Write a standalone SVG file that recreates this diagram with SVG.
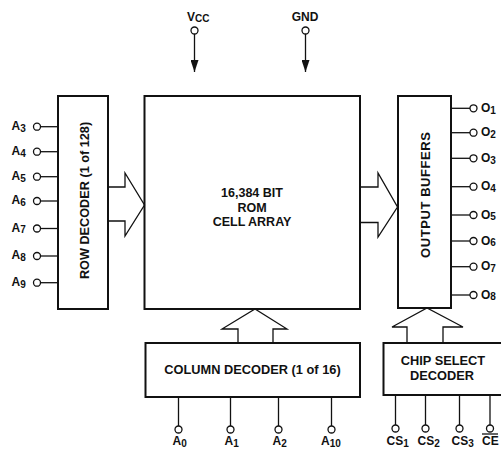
<svg xmlns="http://www.w3.org/2000/svg" width="501" height="449" viewBox="0 0 501 449">
<style>
.box{fill:#fff;stroke:#111;stroke-width:2}
.ln{fill:none;stroke:#111;stroke-width:1.3}
.pin{fill:#fff;stroke:#111;stroke-width:1.3}
.arr{fill:none;stroke:#111;stroke-width:1.3;stroke-linejoin:miter}
text{font-family:"Liberation Sans",Arial,sans-serif;font-weight:bold;fill:#111}
.lbl{font-size:12px}
.sub{font-size:10px}
.big{font-size:12.5px}
</style>
<defs>
<marker id="ah" viewBox="0 0 12 8" refX="12" refY="4" markerWidth="12" markerHeight="8" markerUnits="userSpaceOnUse" orient="auto">
<path d="M0,0 L12,4 L0,8 Z" fill="#111"/>
</marker>
</defs>
<rect width="501" height="449" fill="#fff"/>

<g id="row-decoder">
<rect class="box" x="58" y="96" width="50" height="213"/>
<text transform="translate(88.5,200.5) rotate(-90)" text-anchor="middle" font-size="12.7">ROW DECODER (1 of 128)</text>
</g>

<g id="rom-array">
<rect class="box" x="144.5" y="96" width="215.5" height="213"/>
<text class="big" x="252" y="196.5" text-anchor="middle">16,384 BIT</text>
<text class="big" x="252" y="211.5" text-anchor="middle">ROM</text>
<text class="big" x="252" y="226" text-anchor="middle">CELL ARRAY</text>
</g>

<g id="output-buffers">
<rect class="box" x="398" y="96" width="53" height="212"/>
<text transform="translate(430,195) rotate(-90)" text-anchor="middle" font-size="13" textLength="126" lengthAdjust="spacing">OUTPUT BUFFERS</text>
</g>

<g id="column-decoder">
<rect class="box" x="145.5" y="343" width="214.5" height="54"/>
<text x="252.5" y="374" text-anchor="middle" font-size="12.8">COLUMN DECODER (1 of 16)</text>
</g>

<g id="chip-select-decoder">
<rect class="box" x="383.5" y="343" width="130" height="52"/>
<text x="443" y="365" text-anchor="middle" font-size="12.8">CHIP SELECT</text>
<text x="442" y="379.5" text-anchor="middle" font-size="12.8">DECODER</text>
</g>

<g id="connectors">
<line class="ln" x1="194.5" y1="34" x2="194.5" y2="72" marker-end="url(#ah)"/>
<line class="ln" x1="305.5" y1="34" x2="305.5" y2="72" marker-end="url(#ah)"/>
<polyline class="arr" points="108,187 125,187 125,173 144.5,205 125,236 125,221 108,221"/>
<polyline class="arr" points="360,187 378,187 378,173 397.5,207 378,237 378,222.5 360,222.5"/>
<polyline class="arr" points="238,343 238,329 222,329 255,309 287,329 273,329 273,343"/>
<polyline class="arr" points="407,343 407,327 392,327 427,308 463,327 443,327 443,343"/>
<line class="ln" x1="40.5" y1="126.7" x2="58" y2="126.7"/>
<line class="ln" x1="40.5" y1="151.7" x2="58" y2="151.7"/>
<line class="ln" x1="40.5" y1="176.7" x2="58" y2="176.7"/>
<line class="ln" x1="40.5" y1="201" x2="58" y2="201"/>
<line class="ln" x1="40.5" y1="228.5" x2="58" y2="228.5"/>
<line class="ln" x1="40.5" y1="256" x2="58" y2="256"/>
<line class="ln" x1="40.5" y1="282.7" x2="58" y2="282.7"/>
<line class="ln" x1="451" y1="108.3" x2="470" y2="108.3"/>
<line class="ln" x1="451" y1="132.7" x2="470" y2="132.7"/>
<line class="ln" x1="451" y1="158.3" x2="470" y2="158.3"/>
<line class="ln" x1="451" y1="186.7" x2="470" y2="186.7"/>
<line class="ln" x1="451" y1="215" x2="470" y2="215"/>
<line class="ln" x1="451" y1="241" x2="470" y2="241"/>
<line class="ln" x1="451" y1="266.7" x2="470" y2="266.7"/>
<line class="ln" x1="451" y1="295" x2="470" y2="295"/>
<line class="ln" x1="178.5" y1="397" x2="178.5" y2="426"/>
<line class="ln" x1="230.5" y1="397" x2="230.5" y2="426"/>
<line class="ln" x1="278.5" y1="397" x2="278.5" y2="426"/>
<line class="ln" x1="331.5" y1="397" x2="331.5" y2="426"/>
<line class="ln" x1="395.5" y1="395" x2="395.5" y2="425"/>
<line class="ln" x1="425.5" y1="395" x2="425.5" y2="425"/>
<line class="ln" x1="459.5" y1="395" x2="459.5" y2="425"/>
<line class="ln" x1="490" y1="395" x2="490" y2="425"/>
</g>

<g id="pins">
<circle class="pin" cx="194.5" cy="30.5" r="3.5"/>
<circle class="pin" cx="305.5" cy="30.5" r="3.5"/>
<circle class="pin" cx="37" cy="126.7" r="3.5"/>
<circle class="pin" cx="37" cy="151.7" r="3.5"/>
<circle class="pin" cx="37" cy="176.7" r="3.5"/>
<circle class="pin" cx="37" cy="201" r="3.5"/>
<circle class="pin" cx="37" cy="228.5" r="3.5"/>
<circle class="pin" cx="37" cy="256" r="3.5"/>
<circle class="pin" cx="37" cy="282.7" r="3.5"/>
<circle class="pin" cx="473.5" cy="108.3" r="3.5"/>
<circle class="pin" cx="473.5" cy="132.7" r="3.5"/>
<circle class="pin" cx="473.5" cy="158.3" r="3.5"/>
<circle class="pin" cx="473.5" cy="186.7" r="3.5"/>
<circle class="pin" cx="473.5" cy="215" r="3.5"/>
<circle class="pin" cx="473.5" cy="241" r="3.5"/>
<circle class="pin" cx="473.5" cy="266.7" r="3.5"/>
<circle class="pin" cx="473.5" cy="295" r="3.5"/>
<circle class="pin" cx="178.5" cy="429.5" r="3.5"/>
<circle class="pin" cx="230.5" cy="429.5" r="3.5"/>
<circle class="pin" cx="278.5" cy="429.5" r="3.5"/>
<circle class="pin" cx="331.5" cy="429.5" r="3.5"/>
<circle class="pin" cx="395.5" cy="428.5" r="3.5"/>
<circle class="pin" cx="425.5" cy="428.5" r="3.5"/>
<circle class="pin" cx="459.5" cy="428.5" r="3.5"/>
<circle class="pin" cx="490" cy="428.5" r="3.5"/>
</g>

<g id="labels">
<text class="lbl" x="187" y="21">V<tspan class="sub" dy="1">CC</tspan></text>
<text class="lbl" x="305" y="20.5" text-anchor="middle">GND</text>
<text class="lbl" x="11.5" y="130">A<tspan class="sub" dy="1.5">3</tspan></text>
<text class="lbl" x="11.5" y="155">A<tspan class="sub" dy="1.5">4</tspan></text>
<text class="lbl" x="11.5" y="180">A<tspan class="sub" dy="1.5">5</tspan></text>
<text class="lbl" x="11.5" y="204.3">A<tspan class="sub" dy="1.5">6</tspan></text>
<text class="lbl" x="11.5" y="231.8">A<tspan class="sub" dy="1.5">7</tspan></text>
<text class="lbl" x="11.5" y="259.3">A<tspan class="sub" dy="1.5">8</tspan></text>
<text class="lbl" x="11.5" y="286">A<tspan class="sub" dy="1.5">9</tspan></text>
<text class="lbl" x="481" y="112">O<tspan class="sub" dy="1.5">1</tspan></text>
<text class="lbl" x="481" y="136.4">O<tspan class="sub" dy="1.5">2</tspan></text>
<text class="lbl" x="481" y="162">O<tspan class="sub" dy="1.5">3</tspan></text>
<text class="lbl" x="481" y="190.4">O<tspan class="sub" dy="1.5">4</tspan></text>
<text class="lbl" x="481" y="218.7">O<tspan class="sub" dy="1.5">5</tspan></text>
<text class="lbl" x="481" y="244.7">O<tspan class="sub" dy="1.5">6</tspan></text>
<text class="lbl" x="481" y="270.4">O<tspan class="sub" dy="1.5">7</tspan></text>
<text class="lbl" x="481" y="298.7">O<tspan class="sub" dy="1.5">8</tspan></text>
<text class="lbl" x="172.5" y="445">A<tspan class="sub" dy="1.5">0</tspan></text>
<text class="lbl" x="224.5" y="445">A<tspan class="sub" dy="1.5">1</tspan></text>
<text class="lbl" x="272.5" y="445">A<tspan class="sub" dy="1.5">2</tspan></text>
<text class="lbl" x="321" y="445">A<tspan class="sub" dy="1.5">10</tspan></text>
<text class="lbl" x="386.5" y="445">CS<tspan class="sub" dy="1.5">1</tspan></text>
<text class="lbl" x="417.5" y="445">CS<tspan class="sub" dy="1.5">2</tspan></text>
<text class="lbl" x="451.5" y="445">CS<tspan class="sub" dy="1.5">3</tspan></text>
<text class="lbl" x="482" y="445">CE</text>
<line class="ln" x1="482" y1="434" x2="498" y2="434"/>
</g>
</svg>
